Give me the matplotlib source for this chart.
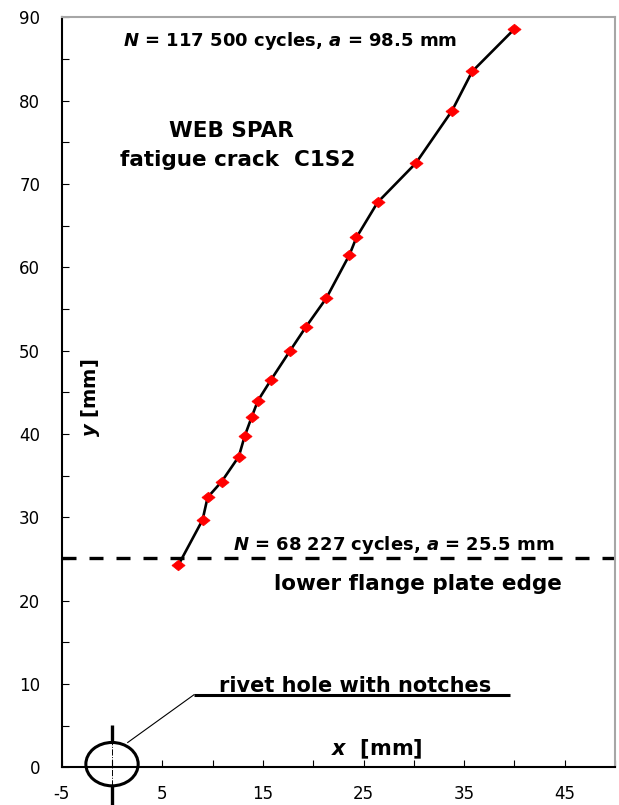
import matplotlib
matplotlib.use("Agg")
from matplotlib import pyplot as plt
from matplotlib.patches import Ellipse

# crack tip positions on the web spar [mm]
crack_x = [6.6, 9.0, 9.5, 10.9, 12.6, 13.2, 13.9, 14.5, 15.8, 17.7,
           19.3, 21.3, 23.6, 24.3, 26.4, 30.2, 33.8, 35.8, 40.0]
crack_y = [24.3, 29.7, 32.4, 34.3, 37.3, 39.8, 42.1, 44.0, 46.5, 50.0,
           52.9, 56.3, 61.5, 63.6, 67.8, 72.5, 78.8, 83.5, 88.6]

flange_y = 25.1            # lower flange plate edge
hole_x, hole_y = 0.0, 0.4  # rivet hole
hole_r = 2.6
notch_top = 5.1
notch_bottom = -4.6
leader_x = [1.56, 8.15]
leader_y = [3.0, 8.73]
underline_x = [8.15, 39.6]

x_major = [-5, 5, 15, 25, 35, 45]
x_minor = [0, 10, 20, 30, 40, 50]
y_major = list(range(0, 91, 10))
y_minor = list(range(5, 90, 10))

label_start = "$N$ = 68 227 cycles, $a$ = 25.5 mm"
label_end = "$N$ = 117 500 cycles, $a$ = 98.5 mm"

plt.rcParams['font.family'] = ['DejaVu Sans']
plt.rcParams['axes.unicode_minus'] = False
plt.rcParams['mathtext.fontset'] = 'custom'
plt.rcParams['mathtext.it'] = 'DejaVu Sans:italic:bold'
plt.rcParams['mathtext.rm'] = 'DejaVu Sans:bold'

fig = plt.figure(figsize=(6.19, 8.05), dpi=100)
ax = fig.add_axes([0.0997, 0.0466, 0.8939, 0.9319])

# crack path with red diamonds
diamond = [(-1, 0), (0, 0.8), (1, 0), (0, -0.8), (-1, 0)]
ax.plot(crack_x, crack_y, color='black', lw=1.9, marker=diamond, ms=9.5,
        mfc='red', mec='red', mew=0.5, zorder=4)

ax.axhline(flange_y, color='black', lw=2.4, dashes=(4.2, 3.9), zorder=2)

# rivet hole with notches
ax.add_patch(Ellipse((hole_x, hole_y), 2 * hole_r, 2 * hole_r, fill=False,
                     ec='black', lw=2.2, clip_on=False, zorder=3))
ax.plot([hole_x, hole_x], [hole_y + hole_r, notch_top], color='black', lw=2.4,
        solid_capstyle='butt', clip_on=False)
ax.plot([hole_x, hole_x], [hole_y - hole_r, notch_bottom], color='black', lw=2.4,
        solid_capstyle='butt', clip_on=False)
ax.plot([hole_x, hole_x], [hole_y - hole_r, hole_y + hole_r], color='black', lw=0.7,
        ls='-.', clip_on=False)
ax.plot(leader_x, leader_y, color='black', lw=0.8)
ax.plot(underline_x, [leader_y[1], leader_y[1]], color='black', lw=2.2,
        solid_capstyle='butt')

ax.text(17.7, 86.5, label_end, ha='center', va='baseline', fontsize=13, fontweight='bold')
ax.text(28.0, 26.05, label_start, ha='center', va='baseline', fontsize=13, fontweight='bold')
ax.text(11.9, 75.6, 'WEB SPAR', ha='center', va='baseline', fontsize=15.5, fontweight='bold')
ax.text(12.5, 72.15, 'fatigue crack  C1S2', ha='center', va='baseline', fontsize=15.5,
        fontweight='bold')
ax.text(30.4, 21.25, 'lower flange plate edge', ha='center', va='baseline', fontsize=15.5,
        fontweight='bold')
ax.text(24.2, 9.04, 'rivet hole with notches', ha='center', va='baseline', fontsize=15,
        fontweight='bold')
ax.text(26.3, 1.45, '$x$  [mm]', ha='center', va='baseline', fontsize=15, fontweight='bold')
ax.text(-2.1, 44.4, '$y$ [mm]', ha='center', va='center', rotation=90, fontsize=14,
        fontweight='bold')

ax.set_xlim(-5, 50)
ax.set_ylim(0, 90)
ax.set_xticks(x_major)
ax.set_xticks(x_minor, minor=True)
ax.set_yticks(y_major)
ax.set_yticks(y_minor, minor=True)
ax.tick_params(which='both', direction='in', length=4.8, width=0.8, colors='black')
ax.tick_params(axis='x', pad=12.5, labelsize=12)
ax.tick_params(axis='y', pad=15.5, labelsize=12)

for side in ['left', 'bottom']:
    ax.spines[side].set_color('black')
    ax.spines[side].set_linewidth(1.5)
for side in ['top', 'right']:
    ax.spines[side].set_color('#a6a6a6')
    ax.spines[side].set_linewidth(1.5)

fig.savefig('out.png', dpi=100)
